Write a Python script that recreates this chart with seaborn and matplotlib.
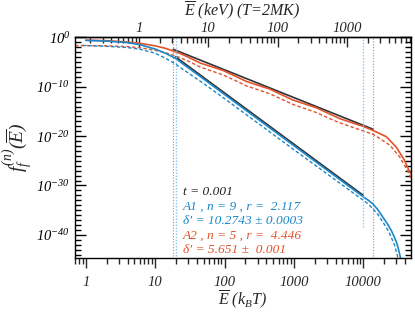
import numpy as np
import pandas as pd
import matplotlib
matplotlib.use("Agg")
import matplotlib.pyplot as plt
import seaborn as sns
from matplotlib.ticker import FixedLocator, FuncFormatter, NullFormatter, LogLocator

# ---------------- data ----------------
# power-law fits (black)
E_fit_A2 = [18.2, 13800]
logf_fit_A2 = [-2.4, -18.6]
E_fit_A1 = [19.7, 10000]
logf_fit_A1 = [-3.93, -32.0]

# A2 (red) solid
E_A2 = [1.0, 2.0, 4.0, 6.1, 10, 14, 18.2, 22.9, 30, 44.7, 65.3, 95.5, 141, 209, 305, 447,
        661, 977, 1430, 2090, 3090, 4570, 6680, 9770, 13800, 21400, 29800, 39300, 46400, 49000]
logf_A2 = [-0.55, -0.65, -0.95, -1.2, -1.7, -2.2, -2.75, -3.25, -4.0, -5.19, -5.94, -6.70,
           -7.82, -8.94, -9.70, -10.46, -11.59, -12.70, -13.47, -14.23, -15.35, -16.44,
           -17.22, -17.99, -18.84, -20.1, -22.2, -24.9, -27.2, -27.7]
# A2 (red) dashed
E_A2d = [0.7, 1.0, 2.0, 4.0, 6.1, 10, 14, 18.2, 22.9, 30, 44.7, 65.3, 95.5, 141, 209, 305, 447,
         661, 977, 1430, 2090, 3090, 4570, 6680, 9770, 13800, 24000, 33500, 44200, 49000]
logf_A2d = [-1.65, -1.65, -1.7, -1.85, -2.1, -2.6, -3.1, -3.6, -4.1, -4.8, -6.0, -6.8, -7.6,
            -8.7, -9.85, -10.6, -11.4, -12.5, -13.6, -14.4, -15.2, -16.3, -17.3, -18.1, -18.9,
            -19.6, -21.8, -24.2, -27.2, -28.6]
# A1 (blue) solid
E_A1 = [1.0, 2.0, 4.0, 6.1, 10, 14, 19.7, 25, 50, 100, 1000, 10000, 11700, 13700, 16200,
        19100, 22100, 25300, 27500, 29900, 31600, 33300, 35500]
logf_A1 = [-0.6, -0.75, -1.05, -1.5, -2.35, -3.2, -4.25, -5.35, -8.43, -11.56, -21.94,
           -32.3, -32.95, -33.7, -34.9, -36.4, -37.7, -39.1, -40.2, -41.4, -42.5, -43.8, -45.5]
# A1 (blue) dashed
E_A1d = [0.9, 1.0, 2.0, 4.0, 6.1, 10, 14, 19.7, 25, 50, 100, 1000, 9350, 11500, 13700, 16300,
         19100, 21500, 23900, 26000, 28200, 30500, 32400]
logf_A1d = [-1.6, -1.65, -1.8, -2.05, -2.4, -3.2, -4.2, -5.4, -6.45, -9.35, -12.4, -22.75,
            -32.7, -33.6, -34.7, -35.9, -37.4, -38.5, -39.7, -40.9, -42.1, -43.8, -45.5]

# break energies (dotted verticals)
breaks_A1 = [19.7, 10000]
breaks_A2 = [18.2, 13800]

# annotation values
t_val = "0.001"
labels = ["A1", "A2"]
n_vals = [9, 5]
r_vals = ["2.117", "4.446"]
delta_vals = ["10.2743", "5.651"]
delta_errs = ["0.0003", " 0.001"]

x_ticks = [1, 10, 100, 1000, 10000]
top_ticks = [1, 10, 100, 1000]
y_major = [0, -10, -20, -30, -40]

T_MK = 2.0
kT_keV = 8.617333e-8 * T_MK * 1e6

# ---------------- style ----------------
sns.set_theme(style="ticks")
plt.rcParams['font.family'] = ['Liberation Serif', 'DejaVu Serif']
plt.rcParams['mathtext.fontset'] = 'custom'
plt.rcParams['mathtext.it'] = 'Liberation Serif:italic'
plt.rcParams['mathtext.rm'] = 'Liberation Serif:italic'
plt.rcParams['mathtext.bf'] = 'Liberation Serif:italic:bold'
plt.rcParams['axes.linewidth'] = 1.0

BLUE = "#1b87c9"
RED = "#e0532b"
BLACK = "#333333"

fig = plt.figure(figsize=(4.15, 3.12), dpi=100)
ax = fig.add_axes([0.181, 0.173, 0.809, 0.707])

def draw(E, logf, color, ls, lw=1.0):
    df = pd.DataFrame({"E": E, "f": 10.0 ** np.array(logf, dtype=float)})
    sns.lineplot(data=df, x="E", y="f", ax=ax, color=color, linestyle=ls,
                 linewidth=lw, estimator=None, sort=False)

draw(E_A2d, logf_A2d, RED, (0, (2.5, 1.6)), 1.0)
draw(E_A1d, logf_A1d, BLUE, (0, (2.5, 1.6)), 1.0)
draw(E_fit_A2, logf_fit_A2, BLACK, "-", 1.2)
draw(E_fit_A1, logf_fit_A1, BLACK, "-", 1.2)
draw(E_A2, logf_A2, RED, "-", 1.2)
draw(E_A1, logf_A1, BLUE, "-", 1.2)

ax.set_xscale("log")
ax.set_yscale("log")
ax.set_xlim(0.7, 4.85e4)
ax.set_ylim(10 ** -44.7, 1.0)

# dotted verticals
ax.vlines(breaks_A2, 10 ** -44.2, 1.0, colors=RED, linestyles=(0, (1, 1.5)), linewidth=0.8, alpha=0.8)
ax.vlines(breaks_A1[0], 10 ** -44.2, 1.0, colors="#8cc6ec", linestyles=(0, (1, 1.2)), linewidth=1.0)
ax.vlines(breaks_A1[1], 10 ** -38.5, 1.0, colors="#8cc6ec", linestyles=(0, (1, 1.2)), linewidth=1.0)

# ticks
ax.yaxis.set_major_locator(FixedLocator([10.0 ** k for k in y_major]))
ax.yaxis.set_minor_locator(FixedLocator([10.0 ** k for k in range(0, -45, -1)]))
ax.yaxis.set_major_formatter(FuncFormatter(lambda v, p: r"$10^{%d}$" % round(np.log10(v))))
ax.yaxis.set_minor_formatter(NullFormatter())
ax.xaxis.set_major_locator(FixedLocator(x_ticks))
ax.xaxis.set_minor_locator(LogLocator(base=10, subs=np.arange(2, 10)))
ax.xaxis.set_major_formatter(FuncFormatter(lambda v, p: "%d" % round(v)))
ax.xaxis.set_minor_formatter(NullFormatter())

ax.tick_params(axis="y", which="both", direction="in", left=True, right=True, colors="black",
               labelsize=10.5, width=1.0)
ax.tick_params(axis="y", which="major", length=8)
ax.tick_params(axis="y", which="minor", length=4.5)
ax.tick_params(axis="x", which="both", direction="out", bottom=True, top=False,
               labelsize=10.5, width=1.0, pad=6)
ax.tick_params(axis="x", which="major", length=7)
ax.tick_params(axis="x", which="minor", length=4.5)
for lab in ax.get_xticklabels():
    lab.set_fontstyle("italic")

sec = ax.secondary_xaxis("top", functions=(lambda e: e * kT_keV, lambda k: k / kT_keV))
sec.xaxis.set_major_locator(FixedLocator(top_ticks))
sec.xaxis.set_minor_locator(LogLocator(base=10, subs=np.arange(2, 10)))
sec.xaxis.set_major_formatter(FuncFormatter(lambda v, p: "%d" % round(v)))
sec.xaxis.set_minor_formatter(NullFormatter())
sec.tick_params(axis="x", which="both", direction="in", labelsize=10.5, width=1.0, pad=1.5)
sec.tick_params(axis="x", which="major", length=7)
sec.tick_params(axis="x", which="minor", length=4)
for lab in sec.xaxis.get_ticklabels():
    lab.set_fontstyle("italic")
fig.text(242 / 415, 1 - 11 / 312, r"$\overline{E}$ (keV) (T=2MK)", fontsize=11.5,
         style="italic", ha="center", va="center")

ax.set_xlabel(r"$\overline{E}\ (k_B T)$", fontsize=11.5, labelpad=0)
ax.set_ylabel(r"$f_f^{(n)}(\overline{E})$", fontsize=14, labelpad=2)

for sp in ax.spines.values():
    sp.set_color("black")
    sp.set_linewidth(1.0)

# annotation
lines = [("t = " + t_val, "#222222")]
cols = [BLUE, RED]
for i in range(2):
    lines.append(("%s , n = %d , r =  %s" % (labels[i], n_vals[i], r_vals[i]), cols[i]))
    lines.append(("δ′ = %s ± %s" % (delta_vals[i], delta_errs[i]), cols[i]))
ys = [191.7, 206.4, 221.0, 235.6, 250.2]
for (txt, c), yp in zip(lines, ys):
    fig.text(183 / 415, 1 - yp / 312, txt, color=c, fontsize=9.6, style="italic",
             va="center", ha="left")

fig.savefig("out.png", dpi=100)
